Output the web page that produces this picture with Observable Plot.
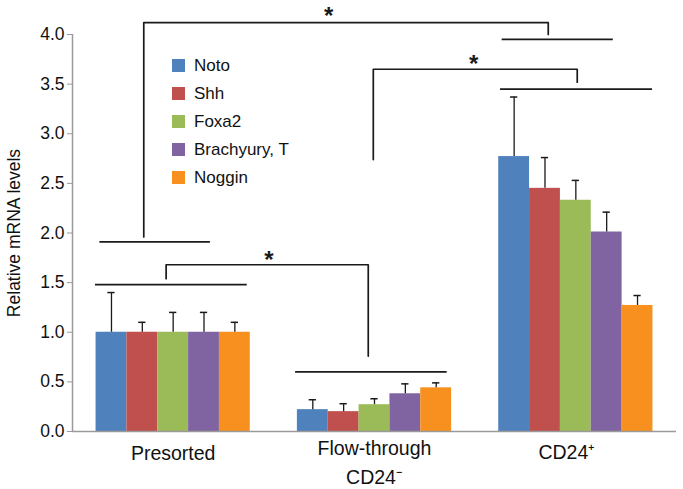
<!DOCTYPE html>
<html>
<head>
<meta charset="utf-8">
<script src="https://cdn.jsdelivr.net/npm/d3@7"></script>
<script src="https://cdn.jsdelivr.net/npm/@observablehq/plot@0.6"></script>
<style>
  html, body { margin: 0; padding: 0; background: #fff; }
  #wrap { position: relative; width: 683px; height: 489px; font-family: "Liberation Sans", Arial, sans-serif; }
  #legend { position: absolute; left: 172px; top: 52px; }
  .row { display: flex; align-items: center; height: 27.9px; font-size: 17px; color: #111; }
  .sw { width: 13px; height: 13px; margin-right: 9px; }
</style>
</head>
<body>
<div id="wrap"><div id="legend"></div></div>
<script>
// ---- data ----
const genes = ["Noto", "Shh", "Foxa2", "Brachyury, T", "Noggin"];
const geneColors = ["#4f81bd", "#c0504d", "#9bbb59", "#8064a2", "#f7901e"];
const groups = ["Presorted", "Flow-through\nCD24\u207B", "CD24\u207A"];

const presortedMean = [1.00, 1.00, 1.00, 1.00, 1.00];
const presortedErr  = [0.40, 0.10, 0.20, 0.20, 0.10];
const flowMean      = [0.22, 0.20, 0.27, 0.38, 0.44];
const flowErr       = [0.10, 0.08, 0.06, 0.10, 0.05];
const cd24Mean      = [2.77, 2.45, 2.33, 2.01, 1.27];
const cd24Err       = [0.60, 0.31, 0.20, 0.20, 0.10];

const yTicks = [0, 0.5, 1, 1.5, 2, 2.5, 3, 3.5, 4];

// significance brackets (x in group units, y in relative mRNA units)
const bracketPaths = [
  [[-0.146, 1.96], [-0.146, 4.12], [1.863, 4.12], [1.863, 4.00]],
  [[0.994, 2.74], [0.994, 3.65], [2.007, 3.65], [2.007, 3.52]],
  [[-0.035, 1.54], [-0.035, 1.68], [0.969, 1.68], [0.969, 0.76]]
];
const groupLines = [
  {y: 1.91, x1: -0.364, x2: 0.185},
  {y: 3.95, x1: 1.634, x2: 2.186},
  {y: 3.45, x1: 1.626, x2: 2.381},
  {y: 1.48, x1: -0.386, x2: 0.368},
  {y: 0.60, x1: 0.608, x2: 1.361}
];
const stars = [
  {x: 0.772, y: 4.18},
  {x: 1.492, y: 3.70},
  {x: 0.475, y: 1.725}
];

// ---- build table ----
const means = [presortedMean, flowMean, cd24Mean];
const errs = [presortedErr, flowErr, cd24Err];
const half = 0.383, bw = 2 * half / genes.length;
const rows = [];
groups.forEach((g, gi) => genes.forEach((gene, k) => {
  const x1 = gi - half + k * bw;
  rows.push({group: g, gene, x1, x2: x1 + bw, xc: x1 + bw / 2,
             value: means[gi][k], top: means[gi][k] + errs[gi][k]});
}));
const pathRows = bracketPaths.flatMap((pts, i) => pts.map(([x, y]) => ({id: i, x, y})));

const ink = "#1a1a1a";
const xAxisOpts = {tickFormat: i => groups[i], tickSize: 0, fill: "#111", fontSize: 19.5, lineHeight: 1.44, label: null};
const chart = Plot.plot({
  width: 683, height: 489,
  marginLeft: 72, marginRight: 7, marginTop: 34, marginBottom: 58,
  style: {fontFamily: "'Liberation Sans', Arial, sans-serif", background: "#fff", overflow: "visible"},
  x: {domain: [-0.5, 2.5]},
  y: {domain: [0, 4]},
  color: {domain: genes, range: geneColors},
  marks: [
    Plot.rectY(rows, {x1: "x1", x2: "x2", y: "value", fill: "gene"}),
    Plot.ruleX(rows, {x: "xc", y1: "value", y2: "top", stroke: ink, strokeWidth: 1.3}),
    Plot.ruleY(rows, {y: "top", x1: d => d.xc - 0.018, x2: d => d.xc + 0.018, stroke: ink, strokeWidth: 1.5}),
    Plot.ruleY([0], {stroke: "#9a9a9a", strokeWidth: 1.5}),
    Plot.ruleX([-0.5], {y1: 0, y2: 4, stroke: "#9a9a9a", strokeWidth: 1.5}),
    Plot.axisY({ticks: yTicks, tickFormat: d3.format(".1f"), tickSize: 5, tickPadding: 3,
      stroke: "#9a9a9a", fill: "#111", fontSize: 17.5,
      label: "Relative mRNA levels", labelAnchor: "center", labelArrow: "none", labelOffset: 65}),
    Plot.axisX({...xAxisOpts, ticks: [0], tickPadding: 9}),
    Plot.axisX({...xAxisOpts, ticks: [1], tickPadding: 4}),
    Plot.axisX({...xAxisOpts, ticks: [2], tickPadding: 8, dx: -9}),
    Plot.line(pathRows, {x: "x", y: "y", z: "id", stroke: ink, strokeWidth: 1.7, curve: "linear"}),
    Plot.ruleY(groupLines, {y: "y", x1: "x1", x2: "x2", stroke: ink, strokeWidth: 1.7}),
    Plot.text(stars, {x: "x", y: "y", text: () => "*", fontSize: 24, fontWeight: "bold", fill: ink})
  ]
});
document.getElementById("wrap").prepend(chart);

// legend
const legend = document.getElementById("legend");
genes.forEach((g, i) => {
  const r = document.createElement("div");
  r.className = "row";
  r.innerHTML = `<span class="sw" style="background:${geneColors[i]}"></span><span>${g}</span>`;
  legend.appendChild(r);
});
</script>
</body>
</html>
